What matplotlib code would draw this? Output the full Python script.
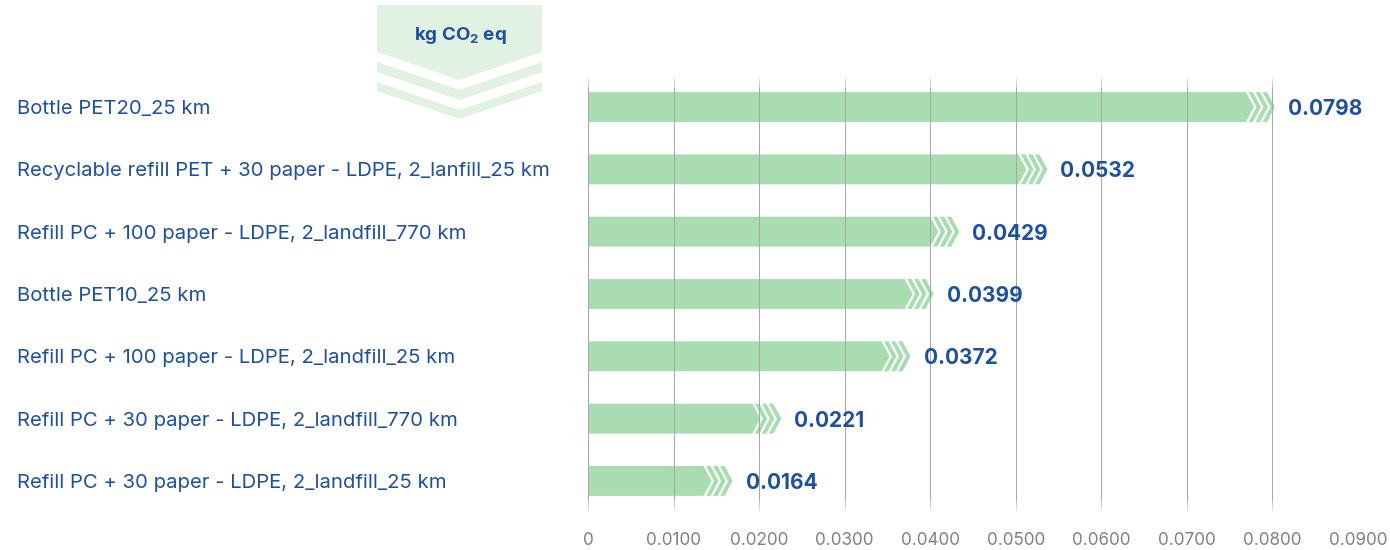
import numpy as np
import matplotlib.pyplot as plt
from matplotlib.patches import Polygon

# data
labels = [
    'Bottle PET20_25 km',
    'Recyclable refill PET + 30 paper - LDPE, 2_lanfill_25 km',
    'Refill PC + 100 paper - LDPE, 2_landfill_770 km',
    'Bottle PET10_25 km',
    'Refill PC + 100 paper - LDPE, 2_landfill_25 km',
    'Refill PC + 30 paper - LDPE, 2_landfill_770 km',
    'Refill PC + 30 paper - LDPE, 2_landfill_25 km',
]
values = [0.0798, 0.0532, 0.0429, 0.0399, 0.0372, 0.0221, 0.0164]
ticks = [0, 0.01, 0.02, 0.03, 0.04, 0.05, 0.06, 0.07, 0.08, 0.09]
tick_labels = ['0', '0.0100', '0.0200', '0.0300', '0.0400', '0.0500',
               '0.0600', '0.0700', '0.0800', '0.0900']
unit = 'kg CO$_\\mathbf{2}$ eq'

BLUE = '#1f4f9f'
GREEN = '#a9dcb1'
BADGE = '#e2f2e2'
W, H = 1390, 550

plt.rcParams['font.family'] = ['Inter', 'DejaVu Sans']
plt.rcParams['mathtext.fontset'] = 'custom'
plt.rcParams['mathtext.bf'] = 'Inter:bold'

fig = plt.figure(figsize=(W / 100, H / 100), dpi=100)
ax_l, ax_r, ax_t, ax_b = 588, 1358, 75, 513
ax = fig.add_axes([ax_l / W, 1 - ax_b / H, (ax_r - ax_l) / W, (ax_b - ax_t) / H])
ax.set_xlim(0, 0.09)
ax.set_ylim(6.514, -0.514)
for s in ax.spines.values():
    s.set_visible(False)

# pixel -> data scale
sx = 0.09 / (ax_r - ax_l)
sy = 7.028 / (ax_b - ax_t)

bh = 0.48
d = 8 * sx      # depth of arrow point
w = 4.5 * sx    # stripe thickness
g = 2.5 * sx    # gap
tail = 3 * (w + g) + d

label_tr = ax.get_yaxis_transform().__class__(fig.transFigure, ax.transData)

y = np.arange(len(values))
for yi, v in zip(y, values):
    tip = v + 0.0005
    xb = tip - tail
    top, bot = yi - bh / 2, yi + bh / 2
    ax.add_patch(Polygon([(0, top), (xb, top), (xb + d, yi), (xb, bot), (0, bot)],
                         closed=True, fc=GREEN, ec='none', zorder=2))
    for i in range(3):
        s = xb + g + i * (w + g)
        ax.add_patch(Polygon([(s, top), (s + w, top), (s + w + d, yi), (s + w, bot),
                              (s, bot), (s + d, yi)],
                             closed=True, fc=GREEN, ec='none', zorder=2))
    ax.text(tip + 13 * sx, yi + 0.03, f'{v:.4f}', color=BLUE, fontsize=15,
            fontweight='bold', va='center', ha='left', zorder=4)
    ax.text(17 / W, yi + 0.03, labels[yi], color=BLUE, fontsize=14.6, va='center',
            ha='left', transform=label_tr)

# vertical grid lines, fading at both ends
y0, y1 = -0.514, 6.514
fade = 14 * sy
gc = '#a5a5a5'
for t in ticks:
    ax.plot([t, t], [y0 + fade, y1 - fade], color=gc, lw=0.7, zorder=3)
    n = 8
    for k in range(n):
        a = (k + 1) / (n + 1)
        ax.plot([t, t], [y0 + fade * k / n, y0 + fade * (k + 1) / n],
                color=gc, lw=0.7, alpha=a, zorder=3, solid_capstyle='butt')
        ax.plot([t, t], [y1 - fade * k / n, y1 - fade * (k + 1) / n],
                color=gc, lw=0.7, alpha=a, zorder=3, solid_capstyle='butt')

ax.set_yticks([])
ax.set_xticks(ticks)
ax.set_xticklabels(tick_labels)
ax.tick_params(axis='x', length=0, pad=14, labelsize=12.3, labelcolor='#808080')

# unit badge at the top
def px(x, y):
    return (x / W, 1 - y / H)

fig.patches.append(Polygon([px(377, 5), px(542, 5), px(542, 52), px(459.5, 80), px(377, 52)],
                           closed=True, fc=BADGE, ec='none', transform=fig.transFigure))
for top_s, bot_s, top_c, bot_c in [(62, 72, 90, 100), (82, 91, 110, 119)]:
    fig.patches.append(Polygon([px(377, top_s), px(459.5, top_c), px(542, top_s),
                                px(542, bot_s), px(459.5, bot_c), px(377, bot_s)],
                               closed=True, fc=BADGE, ec='none', transform=fig.transFigure))
fig.text(460 / W, 1 - 36 / H, unit, color=BLUE, fontsize=13.5, fontweight='bold',
         ha='center', va='center')

fig.savefig('out.png', dpi=100)
